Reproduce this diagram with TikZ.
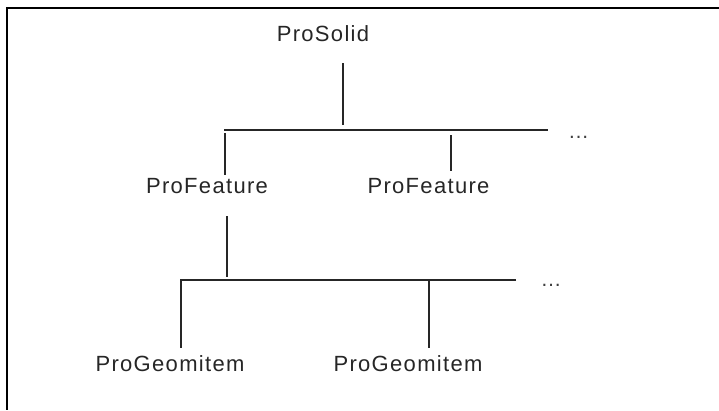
\documentclass[tikz,border=0pt]{standalone}
\usepackage{fontspec}
\newfontfamily\treefont[LetterSpace=6]{Liberation Sans}
\usepackage{tikz}
\usetikzlibrary{positioning}

\begin{document}
\begin{tikzpicture}
    [
      x=1pt,y=-1pt,
      obj/.style={anchor=base,inner sep=2pt,text=black!85,font=\treefont\fontsize{22}{26}\selectfont},
      more/.style={anchor=base,inner sep=0pt,text=black!75,font=\treefont\fontsize{21}{25}\selectfont},
      branch/.style={draw=black!85,line width=1.3pt},
      frame/.style={draw=black,line width=2pt},
    ]
    \useasboundingbox (0,0) rectangle (719,410);

    % frame of the screenshot
    \draw [frame] (719,7.5) -- (6.5,7.5) -- (6.5,410);

    \node (solid) [obj] at (323,41) {ProSolid};
    \node (feat1) [obj] at (207,193) {ProFeature};
    \node (feat2) [obj] at (428.5,193) {ProFeature};
    \node (geom1) [obj] at (170,371.5) {ProGeomitem};
    \node (geom2) [obj] at (408,371.5) {ProGeomitem};
    \node (more1) [more] at (578.5,138) {…};
    \node (more2) [more] at (551,286) {…};

    \coordinate (upbus-w) at (224,130);
    \coordinate (upbus-e) at (548,130);
    \coordinate (lowbus-w) at (181,280);
    \coordinate (lowbus-e) at (516,280);

    \path
    ([xshift=20pt]solid.south) edge [branch,shorten <=20pt,shorten >=5pt] ([xshift=20pt]solid.south |- upbus-w)
    (upbus-w) edge [branch] (upbus-e)
    ([xshift=18pt]feat1.north |- upbus-w) edge [branch,shorten <=3pt,shorten >=1pt] ([xshift=18pt]feat1.north)
    ([xshift=22.5pt]feat2.north |- upbus-w) edge [branch,shorten <=5pt,shorten >=5pt] ([xshift=22.5pt]feat2.north)
    ([xshift=20pt]feat1.south) edge [branch,shorten <=21pt,shorten >=3pt] ([xshift=20pt]feat1.south |- lowbus-w)
    ([xshift=21pt]geom2.north |- lowbus-w) edge [branch,shorten >=5pt] ([xshift=21pt]geom2.north)
    ;
    \draw [branch,shorten >=5pt] (lowbus-e) -| ([xshift=11pt]geom1.north);

  \end{tikzpicture}
\end{document}
